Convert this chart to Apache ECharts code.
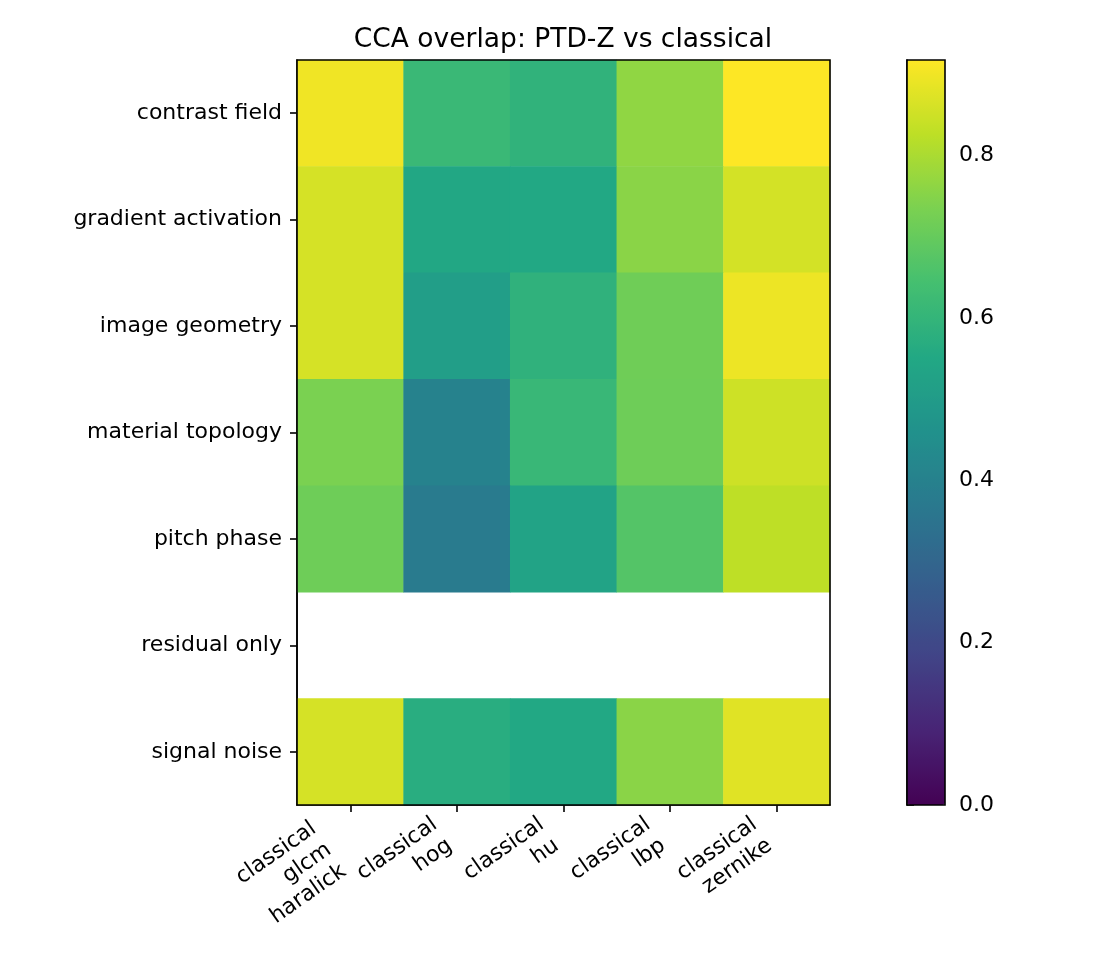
<!DOCTYPE html>
<html>
<head>
<meta charset="utf-8">
<script src="https://cdn.jsdelivr.net/npm/echarts@6/dist/echarts.min.js"></script>
<style>
  html, body { margin: 0; padding: 0; background: #fff; }
  #main { width: 1096px; height: 960px; }
</style>
</head>
<body>
<div id="main"></div>
<script>
// rows top -> bottom
const rows = ['contrast field', 'gradient activation', 'image geometry', 'material topology', 'pitch phase', 'residual only', 'signal noise'];
const cols = ['classical\nglcm\nharalick', 'classical\nhog', 'classical\nhu', 'classical\nlbp', 'classical\nzernike'];

// values per column (glcm, hog, hu, lbp, zernike); null = no data
const contrastField = [0.90, 0.615, 0.59, 0.765, 0.918];
const gradientActivation = [0.86, 0.548, 0.55, 0.756, 0.858];
const imageGeometry = [0.86, 0.51, 0.588, 0.716, 0.895];
const materialTopology = [0.734, 0.404, 0.612, 0.714, 0.849];
const pitchPhase = [0.714, 0.377, 0.53, 0.67, 0.828];
const residualOnly = [null, null, null, null, null];
const signalNoise = [0.86, 0.57, 0.55, 0.756, 0.876];

const vmax = 0.918;

// viridis at 0, 0.1, ... 1
const viridis = ['#440154', '#482475', '#414487', '#355f8d', '#2a788e', '#21918c', '#22a884', '#44bf70', '#7ad151', '#bddf26', '#fde725'];

const matrix = [contrastField, gradientActivation, imageGeometry, materialTopology, pitchPhase, residualOnly, signalNoise];
const data = [];
matrix.forEach((row, r) => {
  row.forEach((v, c) => {
    data.push([c, r, v == null ? '-' : v]);
  });
});

const font = 'DejaVu Sans';
const labelSize = 22;
const lineH = 26;

// rotated multi-line tick labels: pad each so the rotated block hangs under its tick (matplotlib ha=right look)
const labelMargin = -20;
const xCats = cols.map(c => {
  const n = c.split('\n').length;
  const padTop = 62 + (n - 2) * 16.5;
  const padRight = 39.3 + (n - 2) * 14.2;
  return { value: c, textStyle: { padding: [padTop, padRight, 0, 0] } };
});

const chart = echarts.init(document.getElementById('main'));

chart.setOption({
  animation: false,
  backgroundColor: '#fff',
  title: {
    text: 'CCA overlap: PTD-Z vs classical',
    left: 558, top: 22, textAlign: 'center',
    textStyle: { fontFamily: font, fontSize: 26.5, fontWeight: 'normal', color: '#000' }
  },
  grid: [
    { left: 297, top: 60, width: 533, height: 745, show: true, borderColor: '#000', borderWidth: 1.6, z: 5, backgroundColor: 'transparent' },
    { left: 907, top: 60, width: 38, height: 745, show: true, borderColor: '#000', borderWidth: 1.6, z: 5, backgroundColor: 'transparent' }
  ],
  xAxis: [
    {
      type: 'category', data: xCats, gridIndex: 0,
      axisLine: { show: true, lineStyle: { color: '#000', width: 1.6 } },
      axisTick: { show: true, alignWithLabel: true, length: 7, lineStyle: { color: '#000', width: 1.6 } },
      axisLabel: {
        interval: 0, rotate: 35, margin: labelMargin, align: 'right', verticalAlign: 'top',
        color: '#000',
        formatter: v => v.split('\n').map(s => '{c|' + s + '}').join('\n'),
        rich: { c: { fontFamily: font, fontSize: labelSize, lineHeight: lineH, align: 'right', color: '#000' } }
      },
      splitLine: { show: false }
    },
    { type: 'value', gridIndex: 1, show: false, min: 0, max: 1 }
  ],
  yAxis: [
    {
      type: 'category', data: rows, inverse: true, gridIndex: 0,
      axisLine: { show: true, lineStyle: { color: '#000', width: 1.6 } },
      axisTick: { show: true, alignWithLabel: true, length: 7, lineStyle: { color: '#000', width: 1.6 } },
      axisLabel: { fontFamily: font, fontSize: labelSize, color: '#000', margin: 15 },
      splitLine: { show: false }
    },
    {
      type: 'value', gridIndex: 1, position: 'right', min: 0, max: vmax, interval: 0.2,
      axisLine: { show: true, lineStyle: { color: '#000', width: 1.6 } },
      axisTick: { show: true, length: 7, lineStyle: { color: '#000', width: 1.6 } },
      axisLabel: { fontFamily: font, fontSize: labelSize, color: '#000', margin: 14, formatter: v => v.toFixed(1), showMaxLabel: false },
      splitLine: { show: false }
    }
  ],
  visualMap: {
    type: 'continuous', min: 0, max: vmax, seriesIndex: 0,
    calculable: false, showLabel: false, text: null,
    left: 907, top: 60, itemWidth: 38, itemHeight: 745, padding: 0,
    inRange: { color: viridis }
  },
  series: [
    {
      type: 'heatmap', xAxisIndex: 0, yAxisIndex: 0, data: data,
      itemStyle: { borderWidth: 0 },
      emphasis: { disabled: true }
    }
  ]
});
</script>
</body>
</html>
